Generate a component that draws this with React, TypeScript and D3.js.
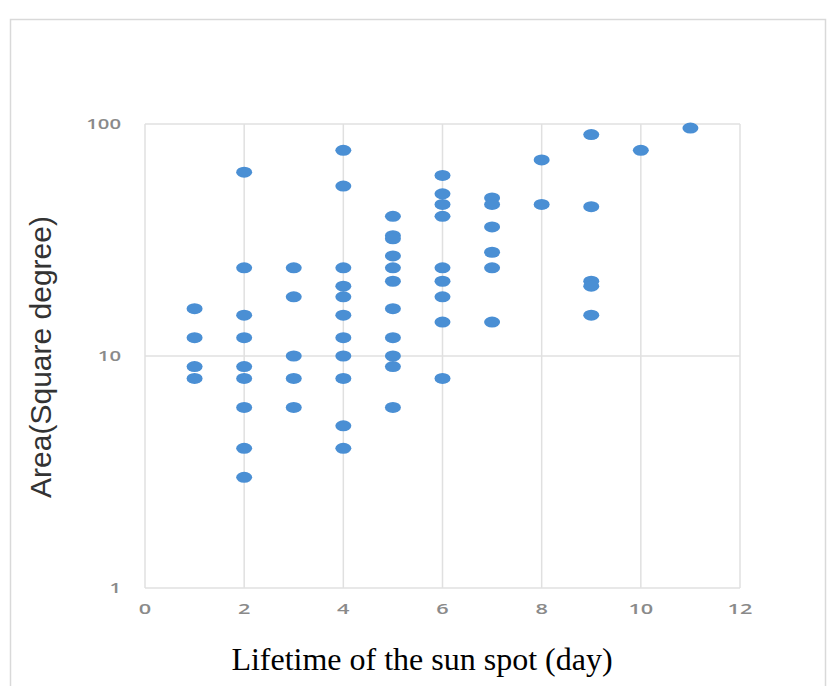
import React, { useRef, useEffect } from "react";
import * as d3 from "d3";

// Lifetime (days) of each spot and its area (square degrees)
const lifetimes = [
  1, 1, 1, 1,
  2, 2, 2, 2, 2, 2, 2, 2, 2,
  3, 3, 3, 3, 3,
  4, 4, 4, 4, 4, 4, 4, 4, 4, 4, 4,
  5, 5, 5, 5, 5, 5, 5, 5, 5, 5, 5,
  6, 6, 6, 6, 6, 6, 6, 6, 6,
  7, 7, 7, 7, 7, 7,
  8, 8,
  9, 9, 9, 9, 9,
  10,
  11,
];
const areas = [
  16, 12, 9, 8,
  62, 24, 15, 12, 9, 8, 6, 4, 3,
  24, 18, 10, 8, 6,
  77, 54, 24, 20, 18, 15, 12, 10, 8, 5, 4,
  40, 33, 32, 27, 24, 21, 16, 12, 10, 9, 6,
  60, 50, 45, 40, 24, 21, 18, 14, 8,
  48, 45, 36, 28, 24, 14,
  70, 45,
  90, 44, 21, 20, 15,
  77,
  96,
];
const xTicks = [0, 2, 4, 6, 8, 10, 12];
const yTicks = [1, 10, 100];

const ScatterChart = ({ width = 832, height = 686 }) => {
  const svgRef = useRef<SVGSVGElement>(null);

  useEffect(() => {
    const svg = d3.select(svgRef.current);
    svg.selectAll("*").remove();

    const margin = { top: 124, right: 92, bottom: 98, left: 145 };
    const chartWidth = width - margin.left - margin.right;
    const chartHeight = height - margin.top - margin.bottom;

    const xScale = d3.scaleLinear().domain([0, 12]).range([0, chartWidth]);
    const yScale = d3.scaleLog().domain([1, 100]).range([chartHeight, 0]);

    svg.attr("width", width).attr("height", height);

    // outer frame
    svg
      .append("rect")
      .attr("x", 10.5)
      .attr("y", 19.5)
      .attr("width", 815)
      .attr("height", height + 10)
      .attr("fill", "#fff")
      .attr("stroke", "#d9d9d9")
      .attr("stroke-width", 1.5);

    const chart = svg
      .append("g")
      .attr("transform", `translate(${margin.left}, ${margin.top})`);

    // grid lines
    chart
      .selectAll(".vgrid")
      .data(xTicks)
      .enter()
      .append("line")
      .attr("x1", d => xScale(d))
      .attr("x2", d => xScale(d))
      .attr("y1", 0)
      .attr("y2", chartHeight)
      .attr("stroke", "#e0e0e0")
      .attr("stroke-width", 1.5);

    chart
      .selectAll(".hgrid")
      .data(yTicks)
      .enter()
      .append("line")
      .attr("x1", 0)
      .attr("x2", chartWidth)
      .attr("y1", d => yScale(d))
      .attr("y2", d => yScale(d))
      .attr("stroke", "#e0e0e0")
      .attr("stroke-width", 1.5);

    // tick labels (the source picture is stretched sideways, so are these)
    chart
      .selectAll(".xlab")
      .data(xTicks)
      .enter()
      .append("text")
      .attr("transform", d => `translate(${xScale(d)}, ${chartHeight + 26}) scale(1.45, 1)`)
      .attr("text-anchor", "middle")
      .attr("font-family", "Open Sans, sans-serif")
      .attr("font-size", 15)
      .attr("font-weight", 600)
      .attr("fill", "#8a8a8a")
      .text(d => d);

    chart
      .selectAll(".ylab")
      .data(yTicks)
      .enter()
      .append("text")
      .attr("transform", d => `translate(-24, ${yScale(d) + 5}) scale(1.45, 1)`)
      .attr("text-anchor", "end")
      .attr("font-family", "Open Sans, sans-serif")
      .attr("font-size", 14)
      .attr("font-weight", 600)
      .attr("fill", "#8a8a8a")
      .text(d => d);

    // points
    chart
      .selectAll(".dot")
      .data(lifetimes.map((l, i) => ({ l, a: areas[i] })))
      .enter()
      .append("ellipse")
      .attr("cx", d => xScale(d.l))
      .attr("cy", d => yScale(d.a))
      .attr("rx", 8)
      .attr("ry", 5.5)
      .attr("fill", "#4a8fd4");

    // axis titles
    svg
      .append("text")
      .attr("x", 422)
      .attr("y", 670)
      .attr("text-anchor", "middle")
      .attr("font-family", "Liberation Serif, serif")
      .attr("font-size", 32)
      .attr("fill", "#000")
      .text("Lifetime of the sun spot (day)");

    svg
      .append("text")
      .attr("transform", "translate(51, 357) rotate(-90)")
      .attr("text-anchor", "middle")
      .attr("font-family", "Liberation Sans, Arial, sans-serif")
      .attr("font-size", 30)
      .attr("fill", "#333")
      .text("Area(Square degree)");
  }, [width, height]);

  return (
    <svg
      ref={svgRef}
      style={{ position: "absolute", left: 0, top: 0, display: "block" }}
    ></svg>
  );
};

export default function App() {
  return <ScatterChart />;
}
